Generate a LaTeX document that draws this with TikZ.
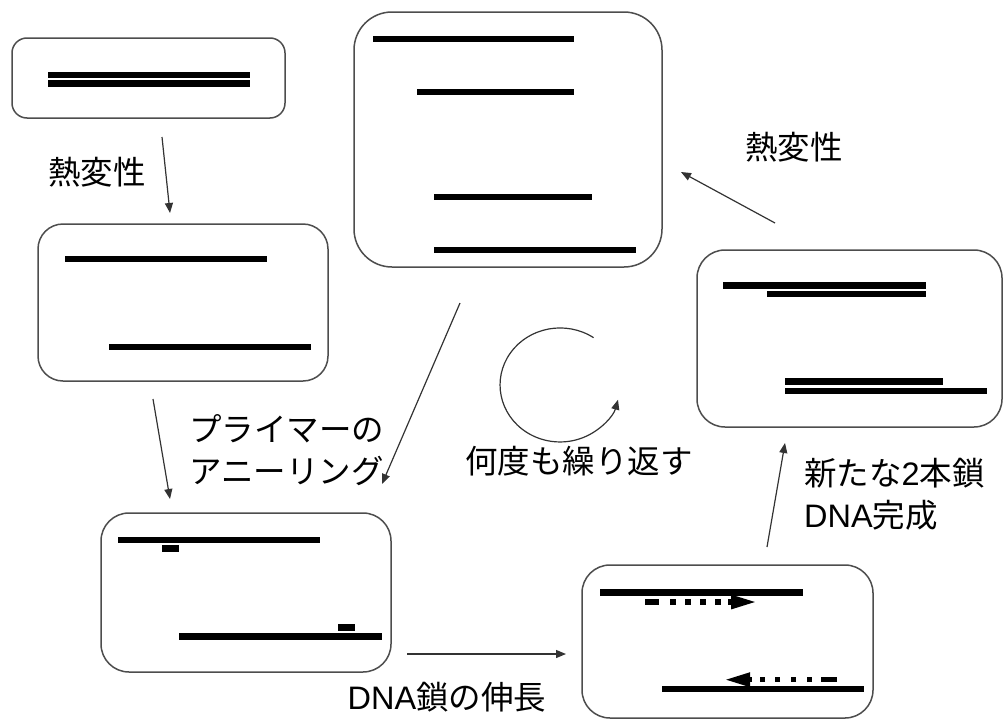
\documentclass[tikz,border=0pt]{standalone}
\usepackage{fontspec}
\setmainfont{Noto Sans CJK JP}
\newfontfamily\latinfont{Liberation Sans}
\usetikzlibrary{arrows.meta}
\definecolor{edge}{HTML}{4D4D4D}
\definecolor{conn}{HTML}{333333}
\tikzset{
  box/.style={draw=edge, line width=1.5pt, fill=white, inner sep=0pt},
  bar/.style={line width=6.5pt, line cap=butt, black},
  primer/.style={line width=6.5pt, line cap=butt, black},
  thinarrow/.style={draw=conn, line width=1.2pt, -{Triangle[length=10pt,width=8pt]}},
  dotarrow/.style={line width=5.5pt, line cap=butt, black, -{Triangle[length=26pt,width=13pt]}},
  label/.style={font=\fontsize{32.5}{42}\selectfont, inner sep=0pt, text=black},
}
\begin{document}
\begin{tikzpicture}[x=1pt,y=-1pt]
\useasboundingbox (0,0) rectangle (1003,720);
% boxes
\node[box, minimum width=273pt, minimum height=80pt, rounded corners=15pt] (b1) at (148.5,78) {};
\node[box, minimum width=290pt, minimum height=157pt, rounded corners=25pt] (b2) at (183,302.5) {};
\node[box, minimum width=308pt, minimum height=255pt, rounded corners=38pt] (b3) at (508,139.5) {};
\node[box, minimum width=305pt, minimum height=177pt, rounded corners=28pt] (b4) at (849.5,338.5) {};
\node[box, minimum width=290pt, minimum height=159pt, rounded corners=28pt] (b5) at (246,592.5) {};
\node[box, minimum width=291pt, minimum height=153pt, rounded corners=28pt] (b6) at (727.5,641.5) {};
% box 1 bars
\draw[bar] (48,75) -- (250,75);
\draw[bar] (48,83.3) -- (250,83.3);
% box 2 bars
\draw[bar] (65,259) -- (267,259);
\draw[bar] (109,347) -- (311,347);
% box 3 bars
\draw[bar] (373,39) -- (574,39);
\draw[bar] (417,92) -- (574,92);
\draw[bar] (434,197) -- (592,197);
\draw[bar] (434,250) -- (636,250);
% box 4 bars
\draw[bar] (723,285.3) -- (926,285.3);
\draw[bar] (767,294.2) -- (926,294.2);
\draw[bar] (785,381.7) -- (943,381.7);
\draw[bar] (785,391) -- (987,391);
% box 5 bars and primers
\draw[bar] (118,540) -- (320,540);
\draw[primer] (162,548.7) -- (179,548.7);
\draw[bar] (179,636.7) -- (382,636.7);
\draw[primer] (338,627.7) -- (355,627.7);
% box 6 bars and extension arrows
\draw[bar] (600,592.7) -- (803,592.7);
\draw[bar] (662,689) -- (864,689);
\coordinate (e1s) at (645,602);
\coordinate (e1t) at (757,602);
\coordinate (e2s) at (837,679.7);
\coordinate (e2t) at (724,679.7);
\draw[dotarrow, dash pattern=on 14pt off 11pt on 6pt off 9pt on 6pt off 9pt on 6pt off 9pt on 6pt off 7pt on 30pt] (e1s) -- (e1t);
\draw[dotarrow, dash pattern=on 16pt off 9pt on 5pt off 11pt on 5pt off 11pt on 5pt off 10pt on 5pt off 8pt on 30pt] (e2s) -- (e2t);
% connectors
\coordinate (a1s) at (162,137);  \coordinate (a1t) at (170,213);
\coordinate (a2s) at (153,399);  \coordinate (a2t) at (170,499);
\coordinate (a3s) at (460,303);  \coordinate (a3t) at (382,484);
\coordinate (a4s) at (407,654);  \coordinate (a4t) at (566,654);
\coordinate (a5s) at (767,547);  \coordinate (a5t) at (785,443);
\coordinate (a6s) at (775,223);  \coordinate (a6t) at (681,172);
\draw[thinarrow] (a1s) -- (a1t);
\draw[thinarrow] (a2s) -- (a2t);
\draw[thinarrow] (a3s) -- (a3t);
\draw[thinarrow] (a4s) -- (a4t);
\draw[thinarrow] (a5s) -- (a5t);
\draw[thinarrow] (a6s) -- (a6t);
% loop arrow
\coordinate (loopstart) at (593.6,337.7);
\draw[thinarrow] (loopstart) arc[start angle=-56, end angle=-345, x radius=60, y radius=57];
% labels
\node[label] (t1) at (97,172) {熱変性};
\node[label, align=left, anchor=west] (t2) at (189,450) {プライマーの\\アニーリング};
\node[label] (t3) at (579,461) {何度も繰り返す};
\node[label] (t4) at (447,697) {{\latinfont DNA}鎖の伸長};
\node[label, align=left, anchor=west] (t5) at (804,494) {新たな{\latinfont 2}本鎖\\{\latinfont DNA}完成};
\node[label] (t6) at (794,147) {熱変性};
\end{tikzpicture}
\end{document}
